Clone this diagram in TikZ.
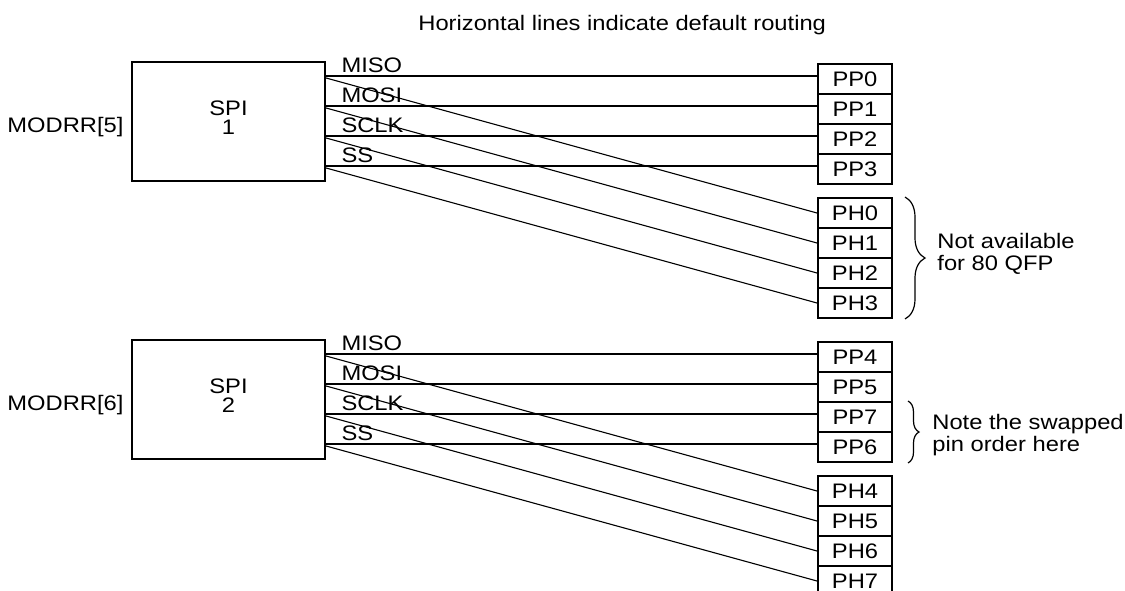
\documentclass[tikz,border=0pt]{standalone}
\usepackage{fontspec}
\setmainfont{Liberation Sans}[FakeStretch=1.13]
\usetikzlibrary{positioning,calc,decorations.pathreplacing}
\tikzset{
  spibox/.style={draw,line width=1.1pt,minimum width=96.5pt,minimum height=59.5pt},
  spitext/.style={align=center,inner sep=0pt,font=\fontsize{10.5}{9.5}\selectfont},
  pinbox/.style={draw,line width=1pt,minimum width=37pt,minimum height=15pt,
                 inner sep=0pt,font=\fontsize{10.5}{12}\selectfont},
  sig/.style={font=\fontsize{10.5}{12}\selectfont,anchor=base west,inner sep=0pt},
  lbl/.style={font=\fontsize{10.5}{12}\selectfont,inner sep=0pt},
  note/.style={font=\fontsize{10.5}{11}\selectfont,align=left,inner sep=0pt,anchor=north west},
  straight/.style={line width=0.9pt},
  cross/.style={line width=0.55pt},
  pinbrace/.style={decorate,decoration={brace,amplitude=#1},line width=0.6pt}
}
\begin{document}
\begin{tikzpicture}[x=0.5pt,y=-0.5pt]
\useasboundingbox (0,0) rectangle (1125,590);
\node[lbl,anchor=base west] (title) at (418,30) {Horizontal lines indicate default routing};

% SPI 1
\node[spibox] (spiA) at (228.5,121.5) {};
\node[spitext] (spiA-txt) at ([yshift=2pt]spiA.center) {SPI\\1};
\node[lbl,anchor=base east] (modA) at ([xshift=-3.5pt,yshift=-5.25pt]spiA.west) {MODRR[5]};
\foreach \n [count=\i from 0] in {PP0,PP1,PP2,PP3}
  \node[pinbox] (a-pp\i) at (855,{79+30*\i}) {\n};
\foreach \n [count=\i from 0] in {PH0,PH1,PH2,PH3}
  \node[pinbox] (a-ph\i) at (855,{213+30*\i}) {\n};
\foreach \s [count=\i from 0] in {MISO,MOSI,SCLK,SS} {
  \coordinate (a-in\i) at ([yshift=1.5pt]a-pp\i.west);
  \draw[straight] (a-in\i -| spiA.east) -- (a-in\i);
  \draw[cross] ([yshift=-1pt]a-in\i -| spiA.east) -- (a-ph\i.west);
  \node[sig] (a-sig\i) at ([xshift=7.5pt,yshift=2pt]a-in\i -| spiA.east) {\s};
}
\draw[pinbrace=10pt] ([xshift=6pt]a-ph0.north east) -- ([xshift=6pt]a-ph3.south east);
\node[note] (noteA) at (937,233) {Not available\\for 80 QFP};

% SPI 2
\node[spibox] (spiB) at (228.5,399.5) {};
\node[spitext] (spiB-txt) at ([yshift=2pt]spiB.center) {SPI\\2};
\node[lbl,anchor=base east] (modB) at ([xshift=-3.5pt,yshift=-5.25pt]spiB.west) {MODRR[6]};
\foreach \n [count=\i from 0] in {PP4,PP5,PP7,PP6}
  \node[pinbox] (b-pp\i) at (855,{357+30*\i}) {\n};
\foreach \n [count=\i from 0] in {PH4,PH5,PH6,PH7}
  \node[pinbox] (b-ph\i) at (855,{491+30*\i}) {\n};
\foreach \s [count=\i from 0] in {MISO,MOSI,SCLK,SS} {
  \coordinate (b-in\i) at ([yshift=1.5pt]b-pp\i.west);
  \draw[straight] (b-in\i -| spiB.east) -- (b-in\i);
  \draw[cross] ([yshift=-1pt]b-in\i -| spiB.east) -- (b-ph\i.west);
  \node[sig] (b-sig\i) at ([xshift=7.5pt,yshift=2pt]b-in\i -| spiB.east) {\s};
}
\draw[pinbrace=5.5pt] ([xshift=7.5pt]b-pp2.north east) -- ([xshift=7.5pt]b-pp3.south east);
\node[note] (noteB) at (932,414) {Note the swapped\\pin order here};
\end{tikzpicture}
\end{document}
